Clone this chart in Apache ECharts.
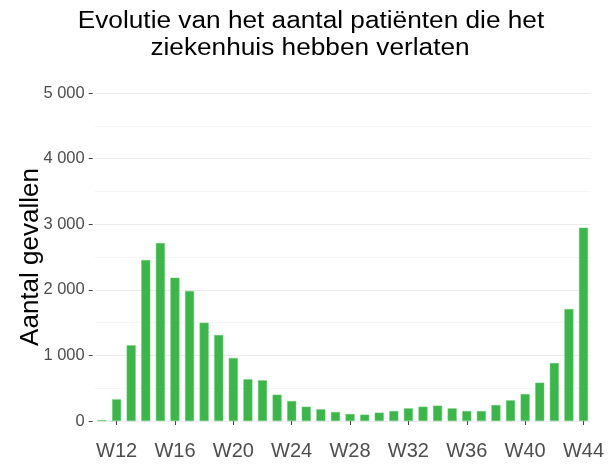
<!DOCTYPE html>
<html><head><meta charset="utf-8">
<script src="https://cdn.jsdelivr.net/npm/echarts@6/dist/echarts.min.js"></script>
<style>html,body{margin:0;padding:0;background:#fff}#c{width:615px;height:466px}</style>
</head><body><div id="c"></div>
<script>
const titleLines = ['Evolutie van het aantal patiënten die het', 'ziekenhuis hebben verlaten'];
const weeks = ['W11','W12','W13','W14','W15','W16','W17','W18','W19','W20','W21','W22','W23','W24','W25','W26','W27','W28','W29','W30','W31','W32','W33','W34','W35','W36','W37','W38','W39','W40','W41','W42','W43','W44'];
const discharged = [15,330,1154,2454,2713,2185,1982,1499,1311,960,636,620,401,305,218,178,137,107,97,127,152,193,218,234,193,152,152,244,315,411,584,884,1707,2947];
const yTicks = [0,1000,2000,3000,4000,5000];

const chart = echarts.init(document.getElementById('c'), null, {renderer:'canvas'});
chart.setOption({
  animation:false,
  graphic:[
    {type:'text', x:311, y:21.5, scaleX:1.14, silent:true,
     style:{text:titleLines[0], fontFamily:'Liberation Sans', fontSize:23, fill:'#000', align:'center', verticalAlign:'middle'}},
    {type:'text', x:310, y:49, scaleX:1.14, silent:true,
     style:{text:titleLines[1], fontFamily:'Liberation Sans', fontSize:23, fill:'#000', align:'center', verticalAlign:'middle'}}
  ],
  grid:{left:94.7, right:24.2, top:93, bottom:45},
  xAxis:{
    type:'category', data:weeks, offset:12,
    axisLine:{show:false},
    axisTick:{show:true, alignWithLabel:true, length:4, lineStyle:{color:'#444'}, interval:(i)=> (i-1)%4===0},
    axisLabel:{interval:(i)=> (i-1)%4===0, fontFamily:'Liberation Sans', fontSize:20, color:'#4d4d4d', margin:8},
    splitLine:{show:false}
  },
  yAxis:{
    type:'value', min:yTicks[0], max:yTicks[yTicks.length-1], interval:1000, offset:2,
    name:'Aantal gevallen', nameLocation:'middle', nameGap:49, nameMoveOverlap:false,
    nameTextStyle:{fontFamily:'Liberation Sans', fontSize:26, color:'#000'},
    axisLine:{show:false},
    axisTick:{show:true, length:4, lineStyle:{color:'#444'}},
    axisLabel:{fontFamily:'Liberation Sans', fontSize:16.5, color:'#4d4d4d', margin:8,
      formatter:(v)=> v===0?'0':String(v).replace(/\B(?=(\d{3})+(?!\d))/g,' ')},
    splitLine:{lineStyle:{color:'#ebebeb', width:1}},
    minorTick:{show:false, splitNumber:2},
    minorSplitLine:{show:true, lineStyle:{color:'#f5f5f5', width:1}}
  },
  series:[{
    type:'bar', data:discharged, barCategoryGap:'38%',
    itemStyle:{color:'#3cb54a', borderColor:'#6fcc79', borderWidth:0.5}
  }]
});
</script></body></html>
